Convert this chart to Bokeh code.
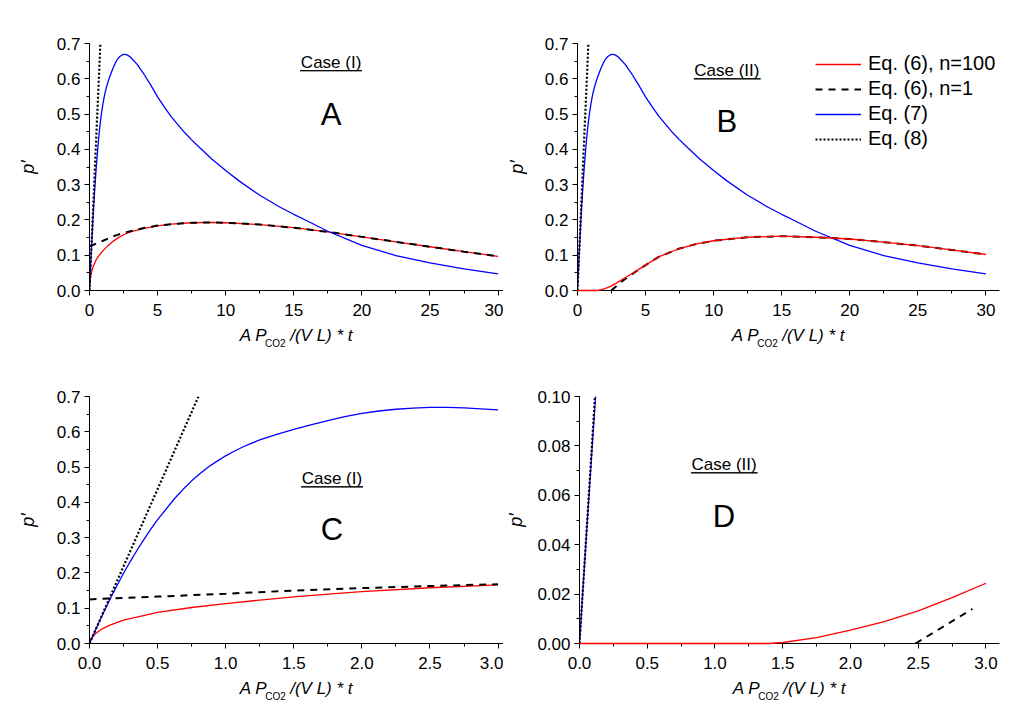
from bokeh.plotting import figure
from bokeh.layouts import column, row
from bokeh.models import (Label, BoxAnnotation, Legend, LegendItem, Range1d, LinearAxis,
                          FixedTicker, PrintfTickFormatter, SingleIntervalTicker,
                          NumeralTickFormatter)
from bokeh.embed import file_html
from bokeh.resources import INLINE

FONT = "Liberation Sans"
RED = "#ff0000"
BLUE = "#0000ff"
NB = "\u00a0"

### data ###

# Case (I): Eq. (6) n=100
red1_x = [0, 0.01, 0.03, 0.05, 0.1, 0.15, 0.25, 0.5, 0.75, 1.0, 1.25, 1.5, 1.75, 2.0, 2.5, 3.0,
          4, 5, 6, 7.5, 9, 10, 12.5, 15, 17.5, 20, 22.5, 25, 27.5, 30]
red1_y = [0, 0.012, 0.022, 0.030, 0.043, 0.052, 0.066, 0.088, 0.102, 0.113, 0.123, 0.132, 0.140,
          0.147, 0.158, 0.166, 0.176, 0.183, 0.188, 0.192, 0.193, 0.192, 0.187, 0.178, 0.166,
          0.152, 0.138, 0.124, 0.110, 0.097]

# Case (I): Eq. (6) n=1
dash1_x = [0, 0.5, 1.0, 1.5, 2.0, 2.5, 3.0, 4, 5, 6, 7.5, 9, 10, 12.5, 15, 17.5, 20, 22.5, 25, 27.5, 30]
dash1_y = [0.125, 0.133, 0.141, 0.150, 0.157, 0.163, 0.168, 0.177, 0.184, 0.188, 0.192, 0.193, 0.192,
           0.187, 0.178, 0.166, 0.152, 0.138, 0.124, 0.110, 0.097]

# Case (II): Eq. (6) n=100
red2_x = [0, 1.0, 1.4, 1.5, 1.75, 2.0, 2.25, 2.5, 2.75, 3.0, 3.5, 4, 4.5, 5, 6, 7.5, 8.75, 10,
          12.5, 15, 17.5, 20, 22.5, 25, 27.5, 30]
red2_y = [0, 0, 0, 0.0004, 0.0024, 0.0054, 0.0089, 0.0132, 0.0186, 0.0244, 0.036, 0.048, 0.060, 0.072,
          0.096, 0.119, 0.132, 0.141, 0.151, 0.154, 0.151, 0.146, 0.137, 0.127, 0.115, 0.102]

# Case (II): Eq. (6) n=1
dash2_x = [2.48, 2.9, 3.2, 3.5, 4, 4.5, 5, 6, 7.5, 8.75, 10, 12.5, 15, 17.5, 20, 22.5, 25, 27.5, 30]
dash2_y = [0, 0.014, 0.024, 0.033, 0.046, 0.059, 0.072, 0.096, 0.119, 0.132, 0.141, 0.151, 0.154,
           0.151, 0.146, 0.137, 0.127, 0.115, 0.102]

# Eq. (7), same for both cases
blue_x = [0, 0.05, 0.1, 0.15, 0.2, 0.25, 0.3, 0.35, 0.4, 0.45, 0.5, 0.625, 0.6875, 0.75, 0.8125,
          0.875, 0.9375, 1.0, 1.0625, 1.125, 1.1875, 1.25, 1.375, 1.5, 1.625, 1.75, 1.875, 2.0,
          2.125, 2.25, 2.375, 2.5, 2.625, 2.75, 2.875, 3.0, 3.5, 4, 4.5, 5, 5.5, 6, 7, 7.5, 8, 9,
          10, 11, 12.5, 14, 15, 16, 17.5, 20, 22.5, 25, 27.5, 30]
blue_y = [0, 0.043, 0.085, 0.125, 0.163, 0.199, 0.233, 0.265, 0.295, 0.324, 0.351, 0.411, 0.437,
          0.461, 0.482, 0.501, 0.517, 0.532, 0.545, 0.557, 0.567, 0.577, 0.593, 0.607, 0.620,
          0.632, 0.643, 0.652, 0.659, 0.664, 0.667, 0.669, 0.669, 0.668, 0.665, 0.662, 0.641,
          0.613, 0.582, 0.549, 0.520, 0.493, 0.447, 0.427, 0.408, 0.372, 0.340, 0.310, 0.270,
          0.236, 0.216, 0.197, 0.168, 0.128, 0.099, 0.078, 0.061, 0.047]

# Eq. (8), straight line
dot_x = [0, 0.8]
dot_y = [0, 0.7]

legend_labels = ["Eq. (6), n=100", "Eq. (6), n=1", "Eq. (7)", "Eq. (8)"]


def upto(xs, ys, x_max):
    pairs = [(a, b) for a, b in zip(xs, ys) if a <= x_max]
    return [a for a, b in pairs], [b for a, b in pairs]


def make_panel(x_end, y_end, x_step, y_step, x_fmt, y_fmt, left, right, top, bottom,
               width, height, ylab_standoff, co2_x):
    p = figure(width=width, height=height, x_range=Range1d(0, x_end), y_range=Range1d(0, y_end),
               output_backend="svg", toolbar_location=None,
               min_border_left=left, min_border_right=right,
               min_border_top=top, min_border_bottom=bottom)
    p.outline_line_color = None
    p.grid.visible = False
    p.background_fill_color = "white"

    p.xaxis.ticker = SingleIntervalTicker(interval=x_step, num_minor_ticks=2)
    p.yaxis.ticker = SingleIntervalTicker(interval=y_step, num_minor_ticks=2)
    p.xaxis.formatter = NumeralTickFormatter(format=x_fmt)
    p.yaxis.formatter = NumeralTickFormatter(format=y_fmt)
    for ax in (p.xaxis, p.yaxis):
        ax.axis_line_color = "black"
        ax.major_tick_line_color = "black"
        ax.minor_tick_line_color = "black"
        ax.major_tick_in = 0
        ax.major_tick_out = 5
        ax.minor_tick_in = 0
        ax.minor_tick_out = 3
        ax.major_label_text_font = FONT
        ax.major_label_text_font_size = "17px"
        ax.major_label_text_color = "black"
        ax.axis_label_text_font = FONT
        ax.axis_label_text_font_style = "italic"
        ax.axis_label_text_color = "black"
    p.xaxis.major_label_standoff = 8
    p.yaxis.major_label_standoff = 4

    # axis titles; a gap is left in the x title for the subscript
    p.xaxis.axis_label = "A P" + NB * 5 + "/(V L) * t"
    p.xaxis.axis_label_text_font_size = "17px"
    p.xaxis.axis_label_standoff = 7
    p.yaxis.axis_label = "p\u2032"
    p.yaxis.axis_label_text_font_size = "18px"
    p.yaxis.axis_label_standoff = ylab_standoff

    # subscript "CO2" as a second, bare axis below the first
    sub = LinearAxis(ticker=FixedTicker(ticks=[co2_x], minor_ticks=[]),
                     formatter=PrintfTickFormatter(format="CO2"))
    sub.axis_line_color = None
    sub.major_tick_line_color = None
    sub.minor_tick_line_color = None
    sub.major_tick_out = 0
    sub.major_tick_in = 0
    sub.minor_tick_out = 0
    sub.minor_tick_in = 0
    sub.major_label_text_font = FONT
    sub.major_label_text_font_size = "10px"
    sub.major_label_text_color = "black"
    sub.major_label_standoff = -10
    p.add_layout(sub, "below")
    return p


def notes(p, case, letter, cx, cy, u_left, u_right, u_y, ly):
    p.add_layout(Label(x=cx, y=cy, text=case, text_align="center", text_baseline="middle",
                       text_font=FONT, text_font_size="17px", text_color="black"))
    p.add_layout(BoxAnnotation(left=u_left, right=u_right, top=u_y, bottom=u_y,
                               fill_alpha=0, line_color="black", line_alpha=1, line_width=1))
    p.add_layout(Label(x=cx, y=ly, text=letter, text_align="center", text_baseline="middle",
                       text_font=FONT, text_font_size="31px", text_color="black"))


def draw(p, x_max, rx, ry, dx, dy, front_red=False):
    rx, ry = upto(rx, ry, x_max)
    dx, dy = upto(dx, dy, x_max)
    bx, by = upto(blue_x, blue_y, x_max)
    r_red = p.line(rx, ry, line_color=RED, line_width=1.3)
    if front_red:
        r_red.level = "overlay"
    r_dash = p.line(dx, dy, line_color="black", line_width=2, line_dash="7 6")
    r_blue = p.line(bx, by, line_color=BLUE, line_width=1.3)
    r_dot = p.line(dot_x, dot_y, line_color="black", line_width=2.2, line_dash="2 2")
    return [r_red, r_dash, r_blue, r_dot]


# Panel A
pa = make_panel(30.4, 0.7001, 5, 0.1, "0", "0.0", 89, 0, 43, 71, 503, 361, 16, 13.64)
draw(pa, 30, red1_x, red1_y, dash1_x, dash1_y)
notes(pa, "Case (I)", "A", 17.74, 0.646, 15.46, 20.0, 0.623, 0.498)

# Panel B
pb = make_panel(31, 0.7001, 5, 0.1, "0", "0.0", 72, 25, 43, 71, 521, 361, 15, 13.96)
rb = draw(pb, 30, red2_x, red2_y, dash2_x, dash2_y, front_red=True)
notes(pb, "Case (II)", "B", 10.97, 0.623, 8.55, 13.45, 0.600, 0.478)

legend = Legend(items=[LegendItem(label=t, renderers=[r]) for t, r in zip(legend_labels, rb)],
                location=(238, 140))
legend.margin = 0
legend.padding = 0
legend.spacing = 2
legend.glyph_width = 46
legend.glyph_height = 20
legend.label_height = 20
legend.label_standoff = 7
legend.border_line_color = None
legend.background_fill_alpha = 0
legend.label_text_font = FONT
legend.label_text_font_size = "20px"
legend.label_text_color = "black"
pb.add_layout(legend)

# Panel C
pc = make_panel(3.04, 0.7001, 0.5, 0.1, "0.0", "0.0", 89, 0, 35, 79, 503, 361, 16, 1.366)
draw(pc, 3, red1_x, red1_y, dash1_x, dash1_y)
notes(pc, "Case (I)", "C", 1.78, 0.467, 1.554, 2.008, 0.444, 0.322)

# Panel D
pd = make_panel(3.1, 0.1, 0.5, 0.02, "0.0", "0.00", 72, 25, 35, 79, 521, 361, 8, 1.396)
draw(pd, 3, red2_x, red2_y, dash2_x, dash2_y, front_red=True)
notes(pd, "Case (II)", "D", 1.067, 0.0724, 0.824, 1.314, 0.0691, 0.0516)

layout = column(row(pa, pb), row(pc, pd))

open("out.html", "w").write(file_html(layout, INLINE))
